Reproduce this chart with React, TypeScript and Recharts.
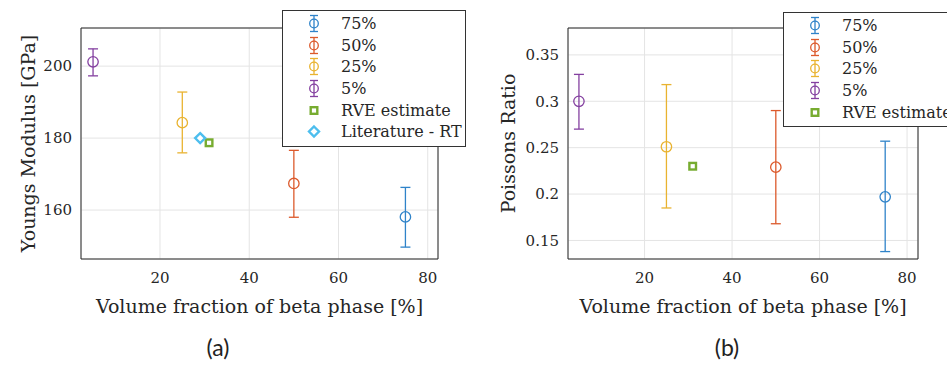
import {
  ScatterChart,
  Scatter,
  XAxis,
  YAxis,
  CartesianGrid,
  ErrorBar,
  Legend,
  ReferenceArea,
  Label,
} from "recharts";

// sample groups (volume fraction of beta phase)
const groupNames = ["75%", "50%", "25%", "5%"];
const groupFractions = [75, 50, 25, 5];
const groupColors = ["#2f83c9", "#dc5a2c", "#e9b330", "#8440a0"];

// (a) Youngs modulus [GPa]
const youngsMean = [158.1, 167.4, 184.3, 201.2];
const youngsLow = [149.7, 158.0, 175.9, 197.3];
const youngsHigh = [166.3, 176.6, 192.8, 204.8];

// (b) Poissons ratio
const poissonMean = [0.197, 0.229, 0.251, 0.3];
const poissonLow = [0.138, 0.168, 0.185, 0.27];
const poissonHigh = [0.257, 0.29, 0.318, 0.329];

const rveName = "RVE estimate";
const rveColor = "#77ac30";
const rveFraction = 31;
const rveYoungs = 178.7;
const rvePoisson = 0.23;

const litName = "Literature - RT";
const litColor = "#4dbeee";
const litFraction = 29;
const litYoungs = 180;

const xTicks = [20, 40, 60, 80];
const youngsTicks = [160, 180, 200];
const poissonTicks = [0.15, 0.2, 0.25, 0.3, 0.35];

const xLabelText = "Volume fraction of beta phase [%]";
const legendOrder = [...groupNames, rveName, litName];

const serif = "'DejaVu Serif', serif";
const textColor = "#262626";
const tickStyle = { fill: textColor, fontSize: 15, fontFamily: serif };

const ring = (color: string) => (p: any) => (
  <circle cx={p.cx} cy={p.cy} r={5.2} fill="none" stroke={color} strokeWidth={1.3} />
);

const square = (color: string) => (p: any) => (
  <rect x={p.cx - 3.3} y={p.cy - 3.3} width={6.6} height={6.6} fill="#fff" stroke={color} strokeWidth={2.4} />
);

const diamond = (color: string) => (p: any) => (
  <polygon
    points={`${p.cx},${p.cy - 5} ${p.cx + 5},${p.cy} ${p.cx},${p.cy + 5} ${p.cx - 5},${p.cy}`}
    fill="#fff"
    stroke={color}
    strokeWidth={2.4}
  />
);

function LegendIcon({ name, color }: { name: string; color: string }) {
  if (name === rveName) {
    return <rect x={27.7} y={7.2} width={6.6} height={6.6} fill="#fff" stroke={color} strokeWidth={2.4} />;
  }
  if (name === litName) {
    return <polygon points="31,5.5 36,10.5 31,15.5 26,10.5" fill="#fff" stroke={color} strokeWidth={2.4} />;
  }
  return (
    <g stroke={color} strokeWidth={1.3} fill="none">
      <line x1={31} y1={2.5} x2={31} y2={18.5} />
      <line x1={27} y1={2.5} x2={35} y2={2.5} />
      <line x1={27} y1={18.5} x2={35} y2={18.5} />
      <circle cx={31} cy={10.5} r={4.3} />
    </g>
  );
}

function LegendBox(props: any) {
  const items = [...(props.payload || [])].sort(
    (a: any, b: any) => legendOrder.indexOf(a.value) - legendOrder.indexOf(b.value)
  );
  return (
    <div
      style={{
        width: 184,
        background: "#fff",
        border: "1px solid #333",
        boxSizing: "border-box",
        padding: "2px 0 3px",
      }}
    >
      {items.map((e: any) => (
        <div key={e.value} style={{ height: 21.6, display: "flex", alignItems: "center" }}>
          <svg width={58} height={21} style={{ flex: "none" }}>
            <LegendIcon name={e.value} color={e.color} />
          </svg>
          <span style={{ fontFamily: serif, fontSize: 16, color: textColor, whiteSpace: "nowrap" }}>
            {e.value}
          </span>
        </div>
      ))}
    </div>
  );
}

const xLabel = (p: any) => {
  const vb = p.viewBox;
  return (
    <text
      x={vb.x + vb.width / 2}
      y={vb.y + 47}
      textAnchor="middle"
      dominantBaseline="central"
      fill={textColor}
      fontSize={19}
      fontFamily={serif}
    >
      {xLabelText}
    </text>
  );
};

const yLabel = (text: string, cx: number) => (p: any) => {
  const vb = p.viewBox;
  const cy = vb.y + vb.height / 2;
  return (
    <text
      x={cx}
      y={cy}
      transform={`rotate(-90 ${cx} ${cy})`}
      textAnchor="middle"
      dominantBaseline="central"
      fill={textColor}
      fontSize={19}
      fontFamily={serif}
    >
      {text}
    </text>
  );
};

type Extra = { name: string; x: number; y: number; color: string; shape: (c: string) => (p: any) => any };

function Panel(props: {
  left: number;
  width: number;
  yAxisWidth: number;
  marginRight: number;
  xDomain: [number, number];
  yDomain: [number, number];
  yTicks: number[];
  yTitle: string;
  yTitleX: number;
  means: number[];
  lows: number[];
  highs: number[];
  extras: Extra[];
  legendLeft: number;
  legendTop: number;
}) {
  const p = props;
  return (
    <div style={{ position: "absolute", left: p.left, top: 0 }}>
      <ScatterChart width={p.width} height={330} margin={{ top: 28, right: p.marginRight, bottom: 0, left: 0 }}>
        <CartesianGrid stroke="#e4e4e4" />
        <XAxis
          type="number"
          dataKey="x"
          domain={p.xDomain}
          ticks={xTicks}
          allowDataOverflow
          axisLine={false}
          tickLine={false}
          tickSize={0}
          tickMargin={13}
          height={71}
          tick={tickStyle}
        >
          <Label content={xLabel} />
        </XAxis>
        <YAxis
          type="number"
          dataKey="y"
          domain={p.yDomain}
          ticks={p.yTicks}
          allowDataOverflow
          axisLine={false}
          tickLine={false}
          tickSize={0}
          tickMargin={9}
          width={p.yAxisWidth}
          tick={tickStyle}
        >
          <Label content={yLabel(p.yTitle, p.yTitleX)} />
        </YAxis>
        <ReferenceArea
          x1={p.xDomain[0]}
          x2={p.xDomain[1]}
          y1={p.yDomain[0]}
          y2={p.yDomain[1]}
          fill="none"
          stroke="#262626"
          strokeWidth={1}
          ifOverflow="visible"
        />
        {groupNames.map((n, i) => (
          <Scatter
            key={n}
            name={n}
            data={[
              {
                x: groupFractions[i],
                y: p.means[i],
                err: [p.means[i] - p.lows[i], p.highs[i] - p.means[i]],
              },
            ]}
            fill={groupColors[i]}
            shape={ring(groupColors[i])}
            isAnimationActive={false}
          >
            <ErrorBar dataKey="err" direction="y" width={5} stroke={groupColors[i]} strokeWidth={1.3} />
          </Scatter>
        ))}
        {p.extras.map((e) => (
          <Scatter
            key={e.name}
            name={e.name}
            data={[{ x: e.x, y: e.y }]}
            fill={e.color}
            shape={e.shape(e.color)}
            isAnimationActive={false}
          />
        ))}
        <Legend
          content={LegendBox}
          layout="vertical"
          align="center"
          verticalAlign="middle"
          wrapperStyle={{ left: p.legendLeft, top: p.legendTop, width: 184 }}
        />
      </ScatterChart>
    </div>
  );
}

const captionStyle = {
  position: "absolute" as const,
  top: 333,
  fontFamily: "Lato, 'Open Sans', sans-serif",
  fontSize: 23,
  color: "#222",
  width: 60,
  textAlign: "center" as const,
};

export default function App() {
  return (
    <div
      style={{
        position: "absolute",
        left: 0,
        top: 0,
        width: 947,
        height: 365,
        overflow: "hidden",
        background: "#fff",
      }}
    >
      <Panel
        left={0}
        width={470}
        yAxisWidth={81}
        marginRight={32}
        xDomain={[2.3, 82.3]}
        yDomain={[146.4, 210.6]}
        yTicks={youngsTicks}
        yTitle="Youngs Modulus [GPa]"
        yTitleX={28}
        means={youngsMean}
        lows={youngsLow}
        highs={youngsHigh}
        extras={[
          { name: rveName, x: rveFraction, y: rveYoungs, color: rveColor, shape: square },
          { name: litName, x: litFraction, y: litYoungs, color: litColor, shape: diamond },
        ]}
        legendLeft={282}
        legendTop={10}
      />
      <Panel
        left={470}
        width={477}
        yAxisWidth={98}
        marginRight={29}
        xDomain={[2.5, 82.5]}
        yDomain={[0.13, 0.379]}
        yTicks={poissonTicks}
        yTitle="Poissons Ratio"
        yTitleX={38}
        means={poissonMean}
        lows={poissonLow}
        highs={poissonHigh}
        extras={[{ name: rveName, x: rveFraction, y: rvePoisson, color: rveColor, shape: square }]}
        legendLeft={313}
        legendTop={12}
      />
      <div style={{ ...captionStyle, left: 188 }}>(a)</div>
      <div style={{ ...captionStyle, left: 697 }}>(b)</div>
    </div>
  );
}
